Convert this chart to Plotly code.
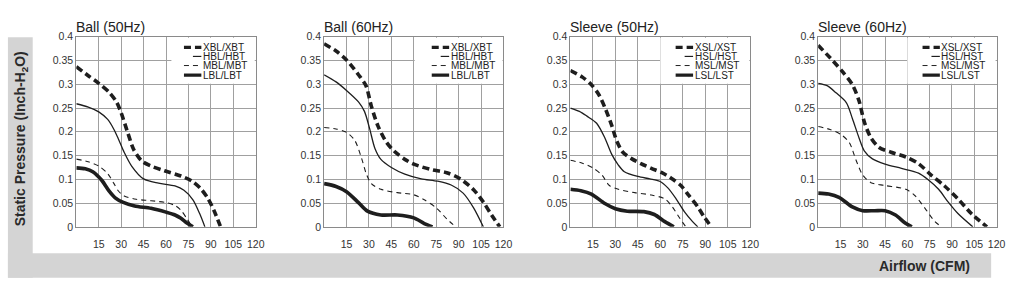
import plotly.graph_objects as go

# ---------------- data ----------------
panel_titles = ["Ball (50Hz)", "Ball (60Hz)", "Sleeve (50Hz)", "Sleeve (60Hz)"]
ball_labels = ["XBL/XBT", "HBL/HBT", "MBL/MBT", "LBL/LBT"]
sleeve_labels = ["XSL/XST", "HSL/HST", "MSL/MST", "LSL/LST"]

x_tick_vals = [15, 30, 45, 60, 75, 90, 105, 120]
x_tick_text = ["15", "30", "45", "60", "75", "90", "105", "120"]
y_tick_vals = [0, 0.05, 0.1, 0.15, 0.2, 0.25, 0.3, 0.35, 0.4]
y_tick_text = ["0", "0.05", "0.1", "0.15", "0.2", "0.25", "0.3", "0.35", "0.4"]

# Ball 50Hz
b50_x_x = [0, 8, 15, 22, 27, 30, 34, 38.5, 44, 50, 59, 70, 77, 83, 88, 92, 96.5]
b50_x_y = [0.337, 0.318, 0.302, 0.283, 0.262, 0.240, 0.202, 0.162, 0.138, 0.128, 0.118, 0.107, 0.097, 0.081, 0.060, 0.035, 0]
b50_h_x = [0, 8, 15, 21, 25, 28, 32, 37, 45, 55, 66, 72, 78, 82.5, 86]
b50_h_y = [0.259, 0.252, 0.242, 0.226, 0.206, 0.186, 0.157, 0.128, 0.101, 0.092, 0.086, 0.077, 0.057, 0.028, 0]
b50_m_x = [0, 8, 15, 21, 25, 28, 32, 40, 50, 60, 66, 70, 74, 77.5]
b50_m_y = [0.1425, 0.137, 0.128, 0.112, 0.092, 0.076, 0.065, 0.058, 0.055, 0.051, 0.045, 0.035, 0.017, 0]
b50_l_x = [0, 6, 11, 17, 22, 26, 31, 39, 50, 60, 66, 70, 74, 78]
b50_l_y = [0.124, 0.122, 0.116, 0.098, 0.075, 0.061, 0.052, 0.044, 0.039, 0.031, 0.025, 0.018, 0.008, 0]

# Ball 60Hz
b60_x_x = [0, 8, 15, 23, 28, 31.5, 36, 41.5, 47, 54, 60, 71, 82, 91, 100, 107, 112, 117.5]
b60_x_y = [0.385, 0.37, 0.351, 0.32, 0.297, 0.255, 0.2125, 0.179, 0.159, 0.142, 0.132, 0.121, 0.114, 0.101, 0.078, 0.050, 0.025, 0]
b60_h_x = [0, 8, 15, 23, 27, 30.5, 34, 38, 45, 54, 65, 76, 85, 93, 100, 106.5]
b60_h_y = [0.32, 0.305, 0.287, 0.263, 0.243, 0.206, 0.165, 0.142, 0.125, 0.111, 0.101, 0.096, 0.088, 0.071, 0.040, 0]
b60_m_x = [0, 8, 15, 20.5, 25, 28.3, 31.6, 38, 49, 60, 67, 75, 82, 88]
b60_m_y = [0.209, 0.206, 0.199, 0.182, 0.145, 0.111, 0.091, 0.079, 0.072, 0.0675, 0.057, 0.040, 0.017, 0]
b60_l_x = [0, 8, 15, 23, 29, 38, 49, 60, 67, 72.5]
b60_l_y = [0.091, 0.085, 0.074, 0.051, 0.033, 0.025, 0.025, 0.019, 0.007, 0]

# Sleeve 50Hz
s50_x_x = [0, 8, 14, 19, 23, 27.5, 31, 35, 41, 47, 54, 61, 67, 74, 79, 85, 89, 94]
s50_x_y = [0.329, 0.315, 0.299, 0.278, 0.251, 0.214, 0.180, 0.157, 0.143, 0.133, 0.123, 0.114, 0.103, 0.086, 0.066, 0.042, 0.022, 0]
s50_h_x = [0, 6, 11, 17.5, 23, 27.5, 32, 36, 45, 53, 59.5, 65, 70.5, 76, 81.5, 85]
s50_h_y = [0.25, 0.243, 0.233, 0.218, 0.187, 0.153, 0.130, 0.116, 0.106, 0.101, 0.096, 0.082, 0.059, 0.032, 0.011, 0]
s50_m_x = [0, 8, 15, 21, 26, 32, 43, 54, 63, 68, 73, 77]
s50_m_y = [0.14, 0.134, 0.124, 0.109, 0.087, 0.079, 0.072, 0.067, 0.059, 0.042, 0.018, 0]
s50_l_x = [0, 7, 14, 23, 30, 38, 49, 56, 63, 69]
s50_l_y = [0.079, 0.076, 0.069, 0.049, 0.038, 0.033, 0.032, 0.026, 0.011, 0]

# Sleeve 60Hz
s60_x_x = [0, 10, 16.5, 23, 27.5, 31, 35.5, 41, 49, 59, 67.5, 76, 85, 94, 103, 113.5]
s60_x_y = [0.382, 0.349, 0.326, 0.299, 0.265, 0.221, 0.187, 0.167, 0.157, 0.147, 0.133, 0.109, 0.086, 0.059, 0.028, 0]
s60_h_x = [0, 6, 12, 19, 23, 27.5, 31, 36.5, 45, 56, 67.5, 74, 81, 87.5, 94, 104]
s60_h_y = [0.302, 0.297, 0.282, 0.261, 0.228, 0.187, 0.160, 0.143, 0.132, 0.123, 0.113, 0.099, 0.079, 0.052, 0.028, 0]
s60_m_x = [0, 8, 15.5, 21, 25.5, 30, 35.5, 45, 59, 65, 72, 78.5, 83]
s60_m_y = [0.211, 0.205, 0.194, 0.177, 0.140, 0.109, 0.093, 0.087, 0.079, 0.066, 0.0385, 0.011, 0]
s60_l_x = [0, 7, 14, 23, 30, 38, 45, 52, 58.5, 63]
s60_l_y = [0.071, 0.069, 0.062, 0.042, 0.034, 0.034, 0.034, 0.025, 0.008, 0]

panels = [
    (ball_labels, [(b50_x_x, b50_x_y), (b50_h_x, b50_h_y), (b50_m_x, b50_m_y), (b50_l_x, b50_l_y)]),
    (ball_labels, [(b60_x_x, b60_x_y), (b60_h_x, b60_h_y), (b60_m_x, b60_m_y), (b60_l_x, b60_l_y)]),
    (sleeve_labels, [(s50_x_x, s50_x_y), (s50_h_x, s50_h_y), (s50_m_x, s50_m_y), (s50_l_x, s50_l_y)]),
    (sleeve_labels, [(s60_x_x, s60_x_y), (s60_h_x, s60_h_y), (s60_m_x, s60_m_y), (s60_l_x, s60_l_y)]),
]

# ---------------- style ----------------
W, H = 1015, 302
INK = "#1e1e1e"
FONT = "Liberation Sans, Arial, Helvetica, sans-serif"
series_styles = [
    dict(width=3.6, dash="7px,4px"),
    dict(width=1.3, dash="solid"),
    dict(width=1.1, dash="5px,4px"),
    dict(width=3.6, dash="solid"),
]
x_domains = [(77, 258), (327, 508), (575.5, 757), (825.5, 1005.5)]
y_top_px, y_bot_px = 32, 230
legend_box_x0 = [0.53, 0.505, 0.50, 0.50]
legend_text_x = [0.705, 0.705, 0.69, 0.69]
legend_row_px = [43, 52.5, 62, 72]

fig = go.Figure()
layout = dict(
    width=W, height=H,
    margin=dict(l=0, r=0, t=0, b=0),
    paper_bgcolor="white", plot_bgcolor="white",
    showlegend=False,
    font=dict(family=FONT, color="#333"),
)
shapes = []
annotations = []

# grey L-shaped frame
shapes.append(dict(type="rect", xref="paper", yref="paper", layer="below",
                   x0=8 / W, x1=33 / W, y0=1 - 283 / H, y1=1 - 32.5 / H,
                   fillcolor="#d4d4d4", line=dict(width=0)))
shapes.append(dict(type="rect", xref="paper", yref="paper", layer="below",
                   x0=8 / W, x1=1000 / W, y0=1 - 283 / H, y1=1 - 257.5 / H,
                   fillcolor="#d4d4d4", line=dict(width=0)))

ydom = [1 - y_bot_px / H, 1 - y_top_px / H]
plot_h = y_bot_px - y_top_px

for i, (labels, series) in enumerate(panels):
    n = "" if i == 0 else str(i + 1)
    xa, ya = "x" + n, "y" + n
    for (xs, ys), st, lab in zip(series, series_styles, labels):
        fig.add_trace(go.Scatter(
            x=xs, y=ys, mode="lines", name=lab, xaxis=xa, yaxis=ya,
            line=dict(color=INK, width=st["width"], dash=st["dash"],
                      shape="spline", smoothing=0.8),
            hoverinfo="skip"))
    layout["xaxis" + n] = dict(
        domain=[x_domains[i][0] / W, x_domains[i][1] / W], anchor=ya,
        range=[0, 120], tickvals=x_tick_vals, ticktext=x_tick_text,
        showgrid=True, gridcolor="#a0a0a0", gridwidth=1,
        showline=True, linecolor="#8a8a8a", linewidth=1, mirror=True,
        zeroline=False, ticks="", ticklabelstandoff=8,
        tickfont=dict(size=10.5, color="#333", family=FONT), fixedrange=True)
    layout["yaxis" + n] = dict(
        domain=ydom, anchor=xa,
        range=[0, 0.4], tickvals=y_tick_vals, ticktext=y_tick_text,
        showgrid=True, gridcolor="#a0a0a0", gridwidth=1,
        showline=True, linecolor="#8a8a8a", linewidth=1, mirror=True,
        zeroline=False, ticks="",
        tickfont=dict(size=10.5, color="#333", family=FONT), fixedrange=True)

    pw = x_domains[i][1] - x_domains[i][0]
    px0 = x_domains[i][0]
    # panel title
    annotations.append(dict(xref="paper", yref="paper", x=(px0 - 2) / W, y=1 - 22 / H,
                            xanchor="left", yanchor="middle", showarrow=False,
                            text=panel_titles[i],
                            font=dict(size=14, color="#222", family=FONT)))
    # legend box (white, covering the grid, just inside the frame)
    shapes.append(dict(type="rect", xref="paper", yref="paper", layer="above",
                       x0=(px0 + legend_box_x0[i] * pw) / W,
                       x1=(px0 + pw - 1) / W,
                       y0=1 - (y_bot_px - 0.75 * plot_h - 0.5) / H,
                       y1=1 - (y_top_px + 1) / H,
                       fillcolor="white", line=dict(width=0)))
    tx = legend_text_x[i]
    for k, (lab, st) in enumerate(zip(labels, series_styles)):
        ry = 1 - legend_row_px[k] / H
        sx0 = tx - (0.055 if k == 1 else 0.105)
        shapes.append(dict(type="line", xref="paper", yref="paper", layer="above",
                           x0=(px0 + sx0 * pw) / W, x1=(px0 + (tx - 0.008) * pw) / W,
                           y0=ry, y1=ry,
                           line=dict(color=INK, width=st["width"] * 0.9,
                                     dash=st["dash"])))
        annotations.append(dict(xref="paper", yref="paper", x=(px0 + (tx - 0.01) * pw) / W, y=ry,
                                xanchor="left", yanchor="middle", showarrow=False,
                                text=lab, font=dict(size=10, color="#222", family=FONT)))

# axis titles
annotations.append(dict(xref="paper", yref="paper", x=21 / W, y=1 - 138 / H,
                        xanchor="center", yanchor="middle", showarrow=False,
                        textangle=-90,
                        text="<b>Static Pressure (Inch-H<sub>2</sub>O)</b>",
                        font=dict(size=14, color="#2a2a2a", family=FONT)))
annotations.append(dict(xref="paper", yref="paper", x=981 / W, y=1 - 271 / H,
                        xanchor="right", yanchor="middle", showarrow=False,
                        text="<b>Airflow (CFM)</b>",
                        font=dict(size=14, color="#2a2a2a", family=FONT)))

layout["shapes"] = shapes
layout["annotations"] = annotations
fig.update_layout(**layout)
fig.write_html("out.html", config={"displayModeBar": False})
